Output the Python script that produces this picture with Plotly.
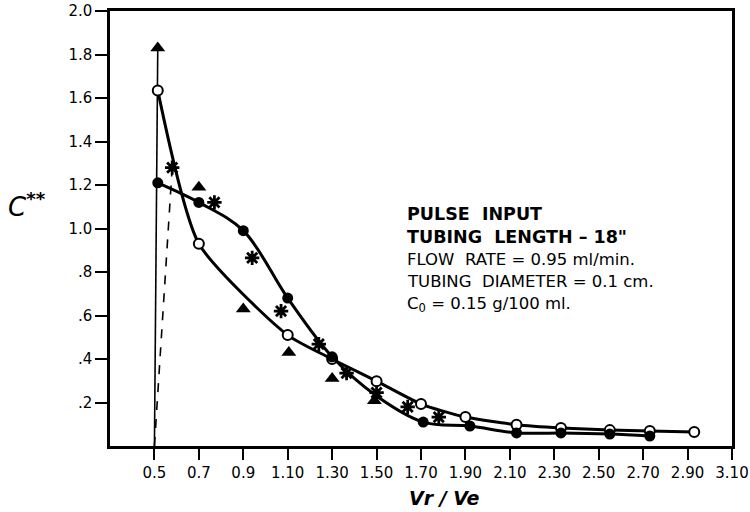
import plotly.graph_objects as go

# ---- data ----
tri_x = [0.515, 0.70, 0.90, 1.105, 1.30, 1.49]
tri_y = [1.83, 1.19, 0.63, 0.43, 0.31, 0.208]

star_x = [0.58, 0.77, 0.94, 1.07, 1.24, 1.365, 1.50, 1.64, 1.78]
star_y = [1.28, 1.12, 0.865, 0.62, 0.468, 0.335, 0.245, 0.18, 0.133]

filled_x = [0.515, 0.70, 0.90, 1.10, 1.30, 1.50, 1.71, 1.92, 2.13, 2.33, 2.55, 2.73]
filled_y = [1.21, 1.12, 0.99, 0.68, 0.41, 0.23, 0.11, 0.092, 0.06, 0.06, 0.055, 0.046]
filled_shown = [1, 1, 1, 1, 1, 0, 1, 1, 1, 1, 1, 1]

open_x = [0.515, 0.70, 1.10, 1.30, 1.50, 1.70, 1.90, 2.13, 2.33, 2.55, 2.73, 2.93]
open_y = [1.635, 0.93, 0.51, 0.40, 0.298, 0.193, 0.133, 0.098, 0.083, 0.073, 0.069, 0.064]

x_ticks = [0.5, 0.7, 0.9, 1.1, 1.3, 1.5, 1.7, 1.9, 2.1, 2.3, 2.5, 2.7, 2.9, 3.1]
x_ticktext = ["0.5", "0.7", "0.9", "1.10", "1.30", "1.50", "1.70", "1.90",
              "2.10", "2.30", "2.50", "2.70", "2.90", "3.10"]
y_ticks = [0.2, 0.4, 0.6, 0.8, 1.0, 1.2, 1.4, 1.6, 1.8, 2.0]
y_ticktext = [".2", ".4", ".6", ".8", "1.0", "1.2", "1.4", "1.6", "1.8", "2.0"]

info_lines = [
    ("PULSE  INPUT", True),
    ("TUBING  LENGTH – 18\"", True),
    ("FLOW  RATE = 0.95 ml/min.", False),
    ("TUBING  DIAMETER = 0.1 cm.", False),
    ("C<sub>0</sub> = 0.15 g/100 ml.", False),
]

FONT = "DejaVu Sans"
fig = go.Figure()

# triangle series: thin line from origin of pulse to the first point
fig.add_trace(go.Scatter(x=[0.5, tri_x[0]], y=[0, tri_y[0]], mode="lines",
                         line=dict(color="black", width=1.6), hoverinfo="skip"))
# asterisk series: dashed line from origin of pulse to the first point
fig.add_trace(go.Scatter(x=[0.5, star_x[0]], y=[0, star_y[0]], mode="lines",
                         line=dict(color="black", width=1.6, dash="dash"), hoverinfo="skip"))

# open circle curve
fig.add_trace(go.Scatter(x=open_x, y=open_y, mode="lines+markers",
                         line=dict(color="black", width=3, shape="spline", smoothing=0.6),
                         marker=dict(symbol="circle", size=10, color="white",
                                     line=dict(color="black", width=2))))
# filled circle curve
fig.add_trace(go.Scatter(x=filled_x, y=filled_y, mode="lines+markers",
                         line=dict(color="black", width=3, shape="spline", smoothing=1.0),
                         marker=dict(symbol="circle", size=[11 * s for s in filled_shown],
                                     color="black", opacity=1,
                                     line=dict(color="black", width=0))))
# triangles
fig.add_trace(go.Scatter(x=tri_x, y=tri_y, mode="markers",
                         marker=dict(symbol="triangle-up", size=13, color="black",
                                     line=dict(color="black", width=0))))
# asterisks
fig.add_trace(go.Scatter(x=star_x, y=star_y, mode="markers",
                         marker=dict(symbol="asterisk-open", size=12, color="black",
                                     line=dict(color="black", width=2.8))))

annotations = []
y0_px = 214
for i, (txt, bold) in enumerate(info_lines):
    ypx = y0_px + i * 22.5
    annotations.append(dict(
        x=(405 - 110) / 622, y=1 - (ypx - 11) / 435, xref="paper", yref="paper",
        text=f"<b>{txt}</b>" if bold else txt, showarrow=False,
        xanchor="left", yanchor="middle",
        font=dict(family=FONT, size=17.5 if bold else 16.5, color="black")))

annotations.append(dict(
    x=(6 - 110) / 622, y=1 - (205 - 11) / 435, xref="paper", yref="paper",
    text="<i>C</i><sup><b>**</b></sup>", showarrow=False, xanchor="left", yanchor="middle",
    font=dict(family=FONT, size=26, color="black")))
annotations.append(dict(
    x=(445 - 110) / 622, y=-(498 - 446) / 435, xref="paper", yref="paper",
    text="<b><i>Vr / Ve</i></b>", showarrow=False, xanchor="center", yanchor="middle",
    font=dict(family=FONT, size=19, color="black")))

fig.update_layout(
    width=750, height=512,
    margin=dict(l=110, r=18, t=11, b=66, autoexpand=False),
    paper_bgcolor="white", plot_bgcolor="white",
    showlegend=False,
    font=dict(family=FONT, size=15, color="black"),
    annotations=annotations,
    xaxis=dict(range=[0.3, 3.1], tickvals=x_ticks, ticktext=x_ticktext, automargin=False,
               showgrid=False, zeroline=False, showline=True, linecolor="black",
               linewidth=2.5, mirror=True, ticks="outside", ticklen=11, tickwidth=2,
               tickcolor="black", tickfont=dict(family=FONT, size=15, color="black")),
    yaxis=dict(range=[0, 2.0], tickvals=y_ticks, ticktext=y_ticktext, automargin=False,
               showgrid=False, zeroline=False, showline=True, linecolor="black",
               linewidth=2.5, mirror=True, ticks="outside", ticklen=12, tickwidth=2,
               tickcolor="black", tickfont=dict(family=FONT, size=15, color="black")),
)

fig.write_html("out.html")
